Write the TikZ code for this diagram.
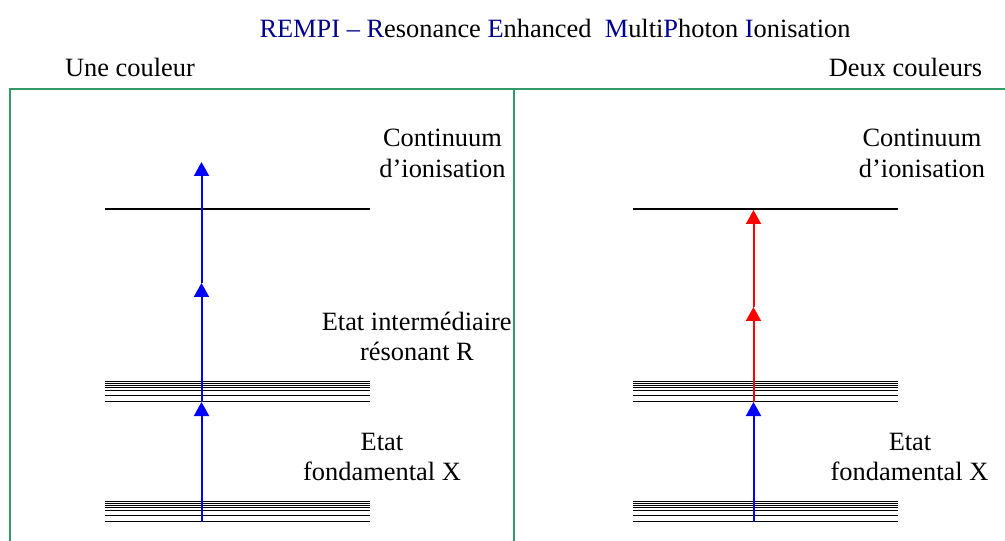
\documentclass[tikz,border=0pt]{standalone}
\usepackage{fontspec}
\setmainfont{Liberation Serif}
\usetikzlibrary{arrows.meta}
\definecolor{boxgreen}{RGB}{51,153,102}
\definecolor{titleblue}{RGB}{0,0,140}
\definecolor{photonblue}{RGB}{0,0,255}
\definecolor{photonred}{RGB}{255,0,0}
\tikzset{
  txt/.style={anchor=base, inner sep=0pt, font=\fontsize{26.4bp}{31bp}\selectfont},
  level/.style={line width=2bp, black},
  sublevel/.style={line width=1.3bp, black},
  photon/.style={line width=2bp, -{Triangle[width=15bp,length=14bp]}},
}
\begin{document}
\begin{tikzpicture}[x=1bp,y=-1bp]
\useasboundingbox (0,0) rectangle (1005,541);
% frame
\draw[boxgreen, line width=2bp] (10,560) -- (10,89) -- (1020,89);
\draw[boxgreen, line width=2bp] (514,89) -- (514,560);
% titles
\node[txt] (title) at (555,38) {\textcolor{titleblue}{REMPI – R}esonance \textcolor{titleblue}{E}nhanced\ \ \textcolor{titleblue}{M}ulti\textcolor{titleblue}{P}hoton \textcolor{titleblue}{I}onisation};
\node[txt] (une) at (130,77) {Une couleur};
\node[txt] (deux) at (905.5,77) {Deux couleurs};
% left panel labels
\node[txt] (contL1) at (442.5,147) {Continuum};
\node[txt] (contL2) at (442.5,178) {d’ionisation};
\node[txt] (interL1) at (416.7,331) {Etat intermédiaire};
\node[txt] (interL2) at (417,361) {résonant R};
\node[txt] (fondL1) at (382,450) {Etat};
\node[txt] (fondL2) at (382,480) {fondamental X};
% right panel labels
\node[txt] (contR1) at (922,147) {Continuum};
\node[txt] (contR2) at (922,178) {d’ionisation};
\node[txt] (fondR1) at (910,450) {Etat};
\node[txt] (fondR2) at (909.5,480) {fondamental X};
% levels
\foreach \xa/\xb in {105/370, 633/898}{
  \draw[level] (\xa,209) -- (\xb,209);
  \foreach \y in {381.5,383.5,385.5,387.5,390.5,395.3,401.3}{
    \draw[sublevel] (\xa,\y) -- (\xb,\y);
  }
  \foreach \y in {501.5,503.5,505.5,507.5,510.5,515.3,521.3}{
    \draw[sublevel] (\xa,\y) -- (\xb,\y);
  }
}
% left photons
\coordinate (a0) at (201.5,521.5);
\coordinate (a1) at (201.5,402);
\coordinate (a2) at (201.5,283);
\coordinate (a3) at (201.5,162);
\draw[photon, photonblue] (a0) -- (a1);
\draw[photon, photonblue] (a1) -- (a2);
\draw[photon, photonblue] (a2) -- (a3);
% right photons
\coordinate (b0) at (753.5,521.5);
\coordinate (b1) at (753.5,402);
\coordinate (b2) at (753.5,307);
\coordinate (b3) at (753.5,210);
\draw[photon, photonblue] (b0) -- (b1);
\draw[photon, photonred] (b1) -- (b2);
\draw[photon, photonred] (b2) -- (b3);
\end{tikzpicture}
\end{document}
